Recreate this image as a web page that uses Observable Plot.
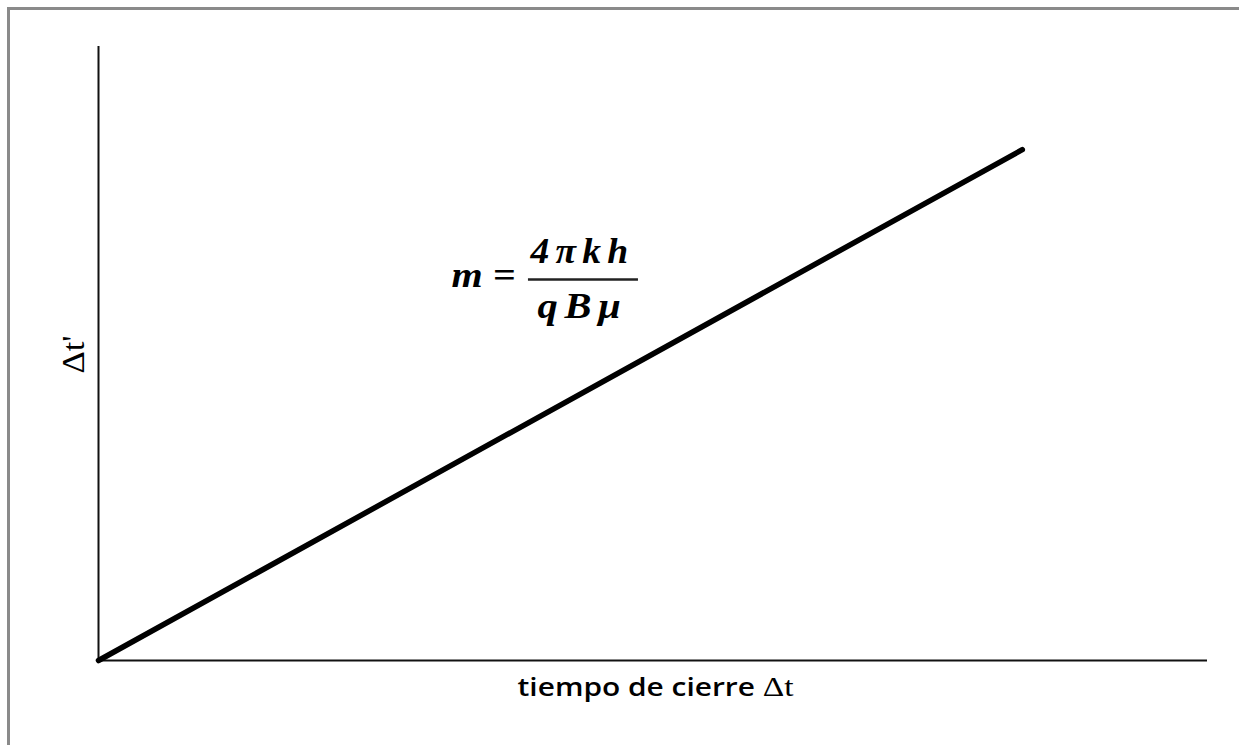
<!DOCTYPE html>
<html>
<head>
<meta charset="utf-8">
<script src="https://cdn.jsdelivr.net/npm/d3@7"></script>
<script src="https://cdn.jsdelivr.net/npm/@observablehq/plot@0.6"></script>
<style>
  html, body { margin: 0; padding: 0; background: #fff; overflow: hidden; }
  #frame { position: absolute; left: 7px; top: 7px; width: 1300px; height: 800px; border: 3px solid #8a8a8a; box-sizing: border-box; pointer-events: none; }
  #chart { position: absolute; left: 0; top: 0; }
  .fx text { font-family: "Liberation Serif", serif !important; font-weight: bold !important; font-style: italic !important; font-size: 36px !important; }
  .ylab text { font-family: "Liberation Serif", serif !important; font-size: 31px !important; }
  .xlab text { font-family: "Open Sans", sans-serif !important; font-size: 25px !important; font-weight: 600; }
</style>
</head>
<body>
<div id="chart"></div>
<div id="frame"></div>
<script>
// Data (schematic: Δt' vs tiempo de cierre Δt, straight line through origin)
const lineX = [0, 0.833];
const lineY = [0, 0.832];
const xLabel = "tiempo de cierre ";
const xLabelSymbol = "\u0394t";
const yLabel = "\u0394t'";
const slopeLeft = "m =";
const slopeNum = "4\u03C0kh";
const slopeDen = "qB\u03BC";

const lineData = lineX.map((x, i) => ({x, y: lineY[i]}));

const W = 1239, H = 745;
const chart = Plot.plot({
  width: W,
  height: H,
  marginLeft: 98,
  marginRight: 32,
  marginTop: 46,
  marginBottom: 85,
  x: {domain: [0, 1], axis: null},
  y: {domain: [0, 1], axis: null},
  marks: [
    Plot.ruleX([0], {stroke: "#111", strokeWidth: 2}),
    Plot.ruleY([0], {stroke: "#111", strokeWidth: 2}),
    Plot.line(lineData, {x: "x", y: "y", stroke: "#000", strokeWidth: 5.5, strokeLinecap: "round"}),
    // slope formula
    Plot.text([slopeLeft], {x: 0.3472, y: 0.6075, lineAnchor: "bottom", text: d => d, fill: "#000", className: "fx fx-m"}),
    Plot.text([slopeNum], {x: 0.4364, y: 0.6482, lineAnchor: "bottom", text: d => d, fill: "#000", className: "fx fx-num"}),
    Plot.ruleY([0.6205], {x1: 0.3877, x2: 0.4869, stroke: "#222", strokeWidth: 2.5}),
    Plot.text([slopeDen], {x: 0.4364, y: 0.5586, lineAnchor: "bottom", text: d => d, fill: "#000", className: "fx fx-den"}),
    // y label
    Plot.text([yLabel], {x: -0.0135, y: 0.4984, lineAnchor: "bottom", text: d => d, rotate: -90, fill: "#000", className: "ylab"}),
    // x label
    Plot.text([xLabel + xLabelSymbol], {x: 0.5023, y: -0.0586, lineAnchor: "bottom", text: d => d, fill: "#000", className: "xlab"})
  ]
});
document.getElementById("chart").appendChild(chart);

// render Δt in serif like the original
d3.select(chart).selectAll(".xlab text").each(function() {
  const t = d3.select(this);
  t.text(null);
  t.append("tspan").text(xLabel);
  t.append("tspan").attr("style", "font-family: 'Liberation Serif', serif; font-size: 28px; font-weight: normal").text(xLabelSymbol);
});
// stretch texts horizontally like the (widened) original
const stretch = [[".fx-m text", 64, 0], [".fx-num text", 104, 6], [".fx-den text", 90, 6], [".ylab text", 38, 0], [".xlab text", 276, 0]];
stretch.forEach(([sel, len, ls]) => {
  d3.select(chart).selectAll(sel)
    .attr("textLength", len)
    .attr("lengthAdjust", "spacingAndGlyphs")
    .style("letter-spacing", ls + "px");
});
</script>
</body>
</html>
